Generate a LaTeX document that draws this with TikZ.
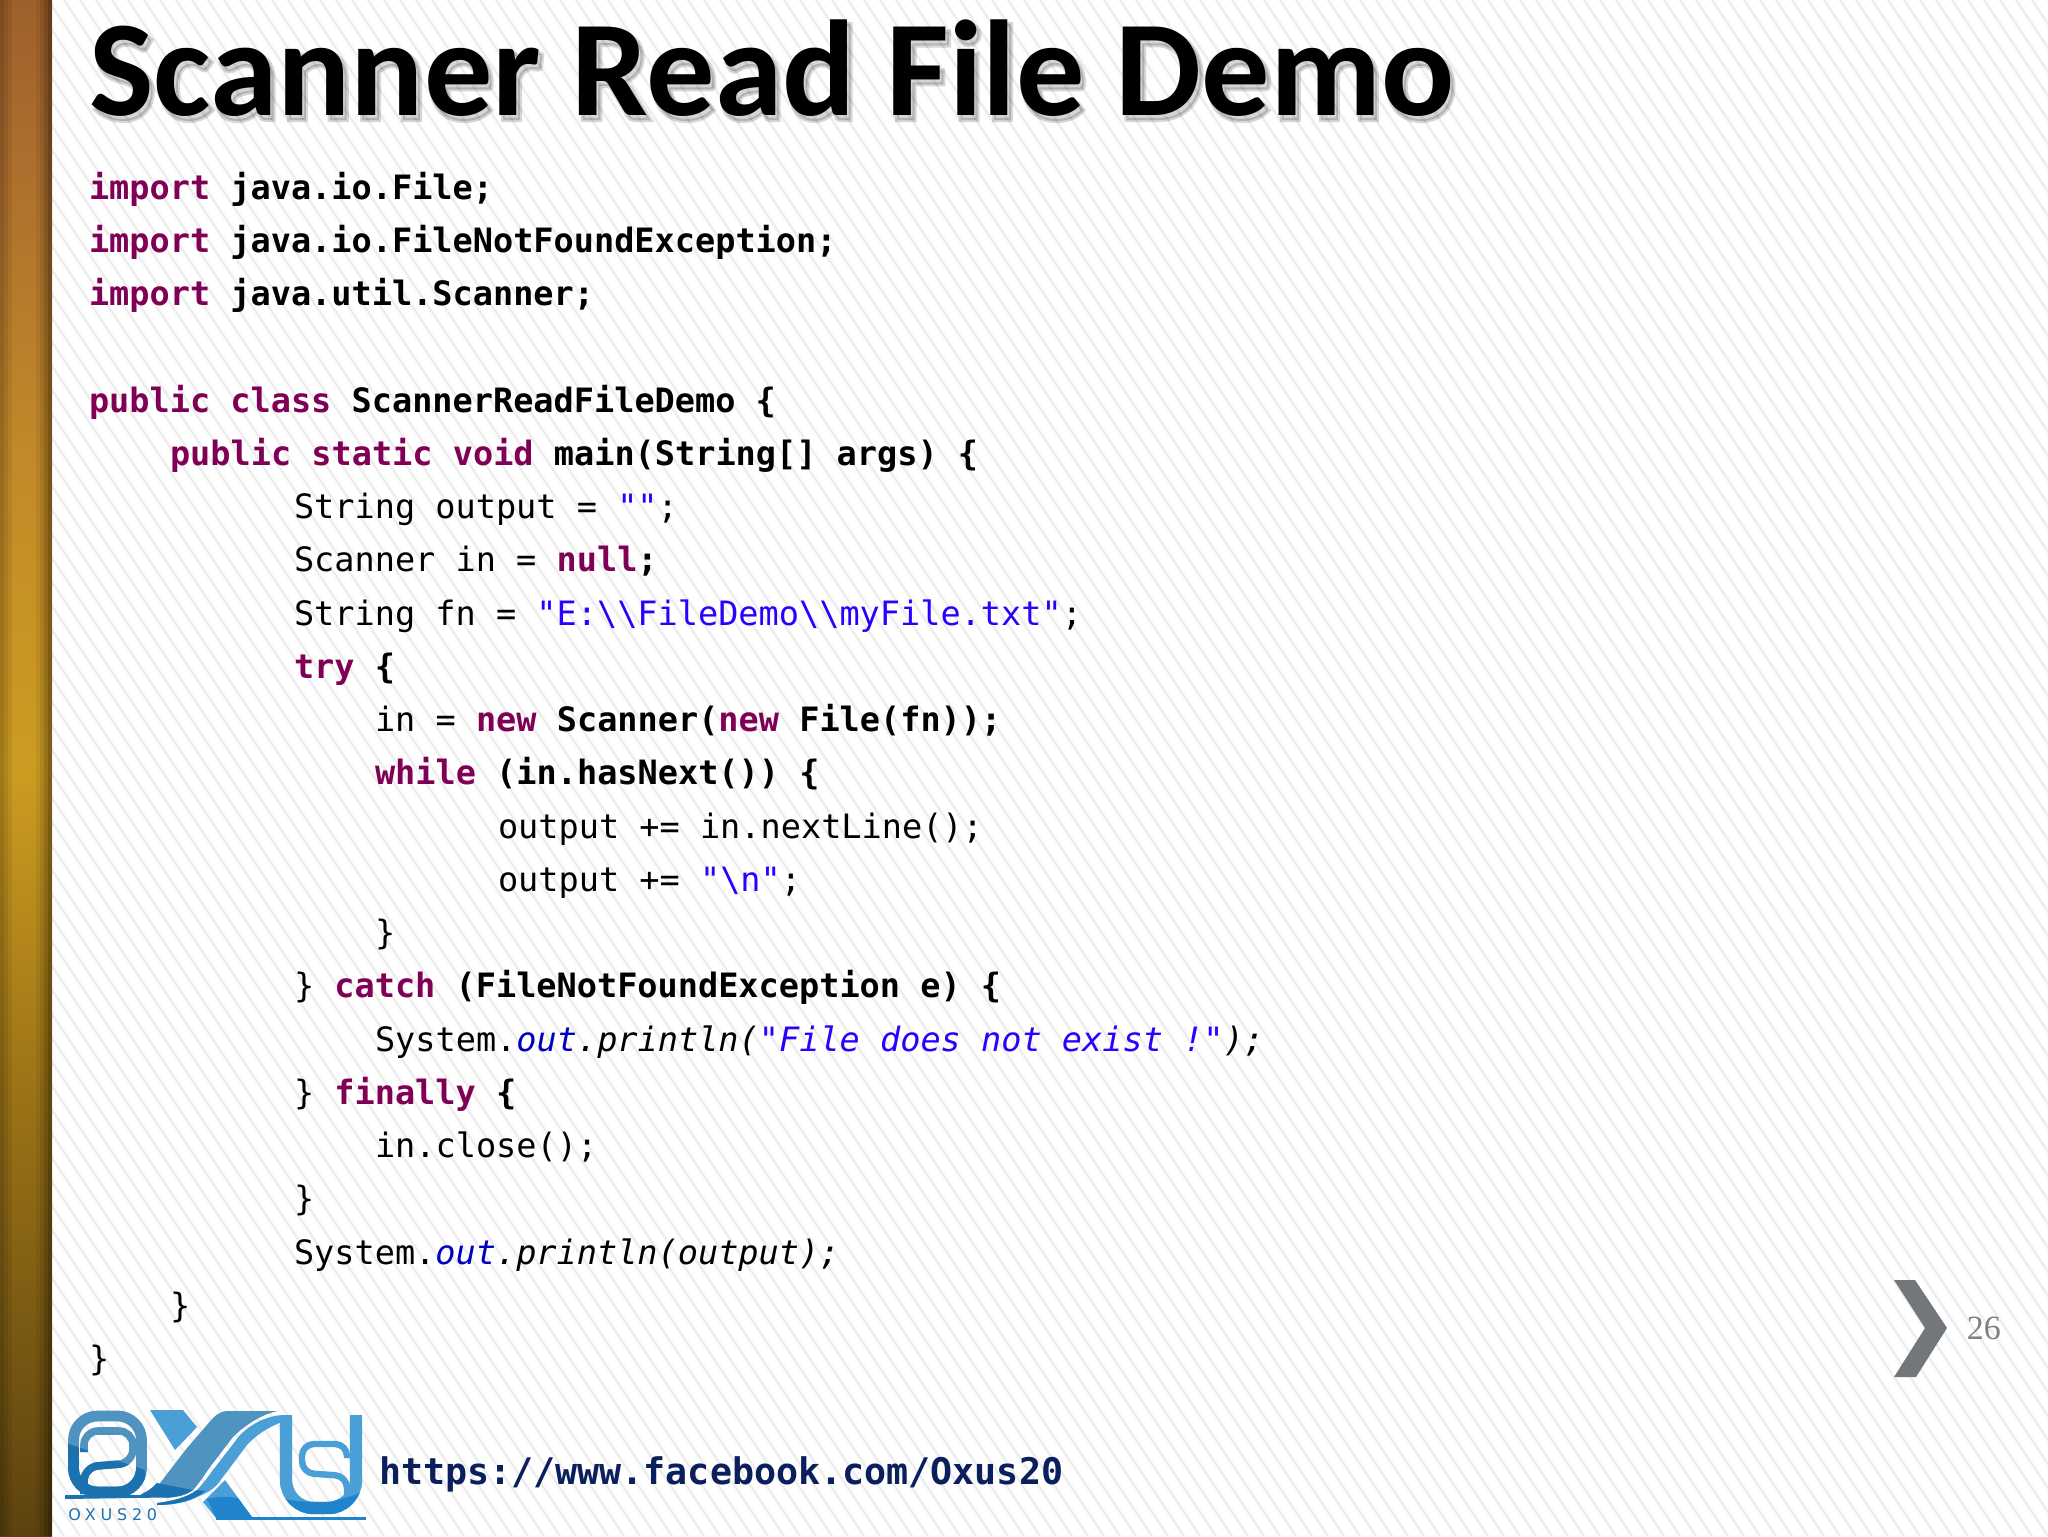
\documentclass[tikz,border=0pt]{standalone}
\usepackage{fontspec}
\setmainfont{Liberation Sans}
\newfontfamily\titlefont{Carlito}
\newfontfamily\titlefat[FakeBold=3]{Carlito}
\newfontfamily\codefont{DejaVu Sans Mono}
\newfontfamily\pagefont{Liberation Serif}
\newfontfamily\oxusfont[LetterSpace=30]{DejaVu Sans}
\definecolor{kw}{HTML}{7F0055}
\definecolor{strc}{HTML}{2A00FF}
\definecolor{outc}{HTML}{0000C0}
\definecolor{urlc}{HTML}{0B1F5C}
\definecolor{stripe}{HTML}{EEEEEE}
\definecolor{chev}{HTML}{72777C}
\definecolor{lgA}{HTML}{4A9FD6}
\definecolor{lgB}{HTML}{4F93C0}
\definecolor{lgC}{HTML}{1C72AE}
\definecolor{lgD}{HTML}{1F84CC}
\pgfdeclareverticalshading{barshade}{100bp}{
 rgb(0bp)=(.36,.26,.06);
 rgb(25bp)=(.36,.26,.06);
 rgb(40bp)=(.62,.46,.09);
 rgb(50bp)=(.80,.61,.13);
 rgb(60bp)=(.76,.54,.16);
 rgb(70bp)=(.68,.43,.18);
 rgb(75bp)=(.62,.38,.17);
 rgb(100bp)=(.62,.38,.17)}
\newcommand{\K}[1]{{\color{kw}\bfseries #1}}
\newcommand{\B}[1]{{\bfseries #1}}
\newcommand{\Sr}[1]{{\color{strc}#1}}
\newcommand{\Ou}[1]{{\color{outc}\itshape #1}}
\newcommand{\Ii}[1]{{\itshape #1}}
\newcommand{\bsl}{\textbackslash}
\tikzset{
 codeline/.style={anchor=base west,inner sep=0pt,outer sep=0pt,text=black,font=\codefont\fontsize{16.78pt}{20pt}\selectfont},
 logofill/.style={fill=lgA,draw=none},
 logostroke/.style={draw=lgB,line width=5.4pt,fill=none},
 twostroke/.style={draw=lgB,line width=3.8pt,fill=none,rounded corners=7pt}
}
\begin{document}
\begin{tikzpicture}[x=0.5pt,y=-0.5pt]
\useasboundingbox (0,0) rectangle (2048,1536);
\fill[white] (0,0) rectangle (2048,1536);
% stripes
\begin{scope}
\clip (52,0) rectangle (2048,1536);
\foreach \i in {-64,...,130}{
 \draw[stripe,line width=1.3pt] ({\i*16},0) -- ({\i*16+1024},1536);
}
\end{scope}
% side bar
\fill[shading=barshade] (0,0) rectangle (52,1536);
\foreach \a/\b/\o in {0/4/.22,4/8/.14,8/12/.07,36/40/.06,40/44/.14,44/48/.26,48/52/.38}{
 \fill[black,opacity=\o] (\a,0) rectangle (\b,1536);
}
% title
\node[anchor=base west,inner sep=0pt,text=black,opacity=.16,font=\titlefat\bfseries\fontsize{68.2pt}{70pt}\selectfont] (titleblur) at (92,120) {Scanner Read File Demo};
\node[anchor=base west,inner sep=0pt,text=black,font=\titlefont\bfseries\fontsize{68.2pt}{70pt}\selectfont] (title) at (89,115.5) {Scanner Read File Demo};
% code
\node[codeline] (l1) at (89,199) {\K{import} \B{java.io.File;}};
\node[codeline] (l2) at (89,252.25) {\K{import} \B{java.io.FileNotFoundException;}};
\node[codeline] (l3) at (89,305.5) {\K{import} \B{java.util.Scanner;}};
\node[codeline] (l5) at (89,412) {\K{public class} \B{ScannerReadFileDemo \{}};
\node[codeline] (l6) at (170,465.25) {\K{public static void} \B{main(String[] args) \{}};
\node[codeline] (l7) at (294,518.5) {String output = \Sr{""};};
\node[codeline] (l8) at (294,571.75) {Scanner in = \K{null}\B{;}};
\node[codeline] (l9) at (294,625) {String fn = \Sr{"E:\bsl\bsl FileDemo\bsl\bsl myFile.txt"};};
\node[codeline] (l10) at (294,678.25) {\K{try} \B{\{}};
\node[codeline] (l11) at (375,731.5) {in = \K{new} \B{Scanner(}\K{new} \B{File(fn));}};
\node[codeline] (l12) at (375,784.75) {\K{while} \B{(in.hasNext()) \{}};
\node[codeline] (l13) at (498,838) {output += in.nextLine();};
\node[codeline] (l14) at (498,891.25) {output += \Sr{"\bsl n"};};
\node[codeline] (l15) at (375,944.5) {\}};
\node[codeline] (l16) at (294,997.75) {\} \K{catch} \B{(FileNotFoundException e) \{}};
\node[codeline] (l17) at (375,1051) {System.\Ou{out}\Ii{.println(}{\color{strc}\itshape "File does not exist !"}\Ii{);}};
\node[codeline] (l18) at (294,1104.25) {\} \K{finally} \B{\{}};
\node[codeline] (l19) at (375,1157.5) {in.close();};
\node[codeline] (l20) at (294,1210.75) {\}};
\node[codeline] (l21) at (294,1264) {System.\Ou{out}\Ii{.println(output);}};
\node[codeline] (l22) at (170,1317.25) {\}};
\node[codeline] (l23) at (89,1370.5) {\}};
% url
\node[codeline,text=urlc,font=\codefont\bfseries\fontsize{18.33pt}{22pt}\selectfont] (url) at (379,1484.5) {https://www.facebook.com/Oxus20};
% chevron
\fill[chev] (1894,1280) -- (1915,1280) -- (1947,1328) -- (1916,1377) -- (1894,1377) -- (1925,1328) -- cycle;
\node[anchor=base west,inner sep=0pt,text=black!50,font=\pagefont\fontsize{17pt}{20pt}\selectfont] (page) at (1966.5,1339) {26};
% logo: ring and 2
\draw[logostroke,rounded corners=12pt] (73.5,1416) rectangle (141.5,1492);
\draw[twostroke] (84,1452) -- (84,1431) -- (133,1431) -- (133,1463) -- (84,1467) -- (84,1494);
\begin{scope}
\clip (60,1441) -- (145,1470) -- (145,1505) -- (60,1505) -- cycle;
\draw[logostroke,draw=lgC,rounded corners=12pt] (73.5,1416) rectangle (141.5,1492);
\draw[twostroke,draw=lgC] (84,1452) -- (84,1431) -- (133,1431) -- (133,1463) -- (84,1467) -- (84,1494);
\end{scope}
% logo: X
\fill[lgA] (150,1410) -- (183,1410) -- (197,1427) -- (175,1450) -- cycle;
\fill[lgB] (278,1411) .. controls (262,1414) and (245,1425) .. (233,1437) -- (210,1467) .. controls (203,1477) and (198,1485) .. (193,1490) .. controls (186,1495) and (178,1497) .. (167,1498) -- (142,1493) .. controls (148,1492) and (152,1490) .. (157,1487) -- (187,1448) -- (213,1418) .. controls (217,1414) and (222,1411) .. (227,1411) -- cycle;
\fill[lgC] (65,1495) -- (140,1495) .. controls (147,1492) and (152,1488) .. (157,1483) -- (193,1490) .. controls (186,1495) and (178,1497) .. (165,1497.5) -- (65,1499) -- cycle;
\fill[lgA] (283,1415) .. controls (265,1416) and (250,1425) .. (240,1435) -- (213,1470) .. controls (205,1481) and (200,1487) .. (197,1490) .. controls (186,1498) and (172,1501) .. (157,1503) -- (157,1505) .. controls (175,1505) and (188,1502) .. (197,1497) .. controls (205,1494) and (212,1490) .. (217,1485) -- (247,1445) .. controls (255,1436) and (268,1427) .. (282,1422) -- cycle;
\fill[lgC] (157,1503) .. controls (172,1501) and (186,1498) .. (197,1490) -- (205,1491) .. controls (195,1500) and (175,1505) .. (157,1505) -- cycle;
\fill[lgA] (203,1502) -- (225,1480) -- (252,1517) -- (216,1518) -- cycle;
\fill[lgD] (207,1499) .. controls (215,1497) and (225,1496) .. (238,1498) -- (252,1517) -- (216,1518) -- cycle;
\draw[lgD,line width=1.5pt] (216,1518) -- (366,1518);
% logo: U and S
\draw[draw=lgA,line width=6.2pt,rounded corners=14pt] (286,1415) -- (286,1508) -- (356,1508) -- (356,1415);
\begin{scope}
\clip (270,1495) .. controls (300,1505) and (340,1505) .. (370,1488) -- (370,1525) -- (270,1525) -- cycle;
\draw[draw=lgD,line width=6.2pt,rounded corners=14pt] (286,1415) -- (286,1508) -- (356,1508) -- (356,1415);
\end{scope}
\draw[draw=lgA,line width=3.2pt,rounded corners=6pt] (347,1458) -- (347,1444) -- (302,1444) -- (302,1473) -- (347,1476) -- (347,1496);
\node[anchor=base west,inner sep=0pt,text=lgC,font=\oxusfont\fontsize{8pt}{9pt}\selectfont] (oxus) at (68,1520) {OXUS20};
\end{tikzpicture}
\end{document}
